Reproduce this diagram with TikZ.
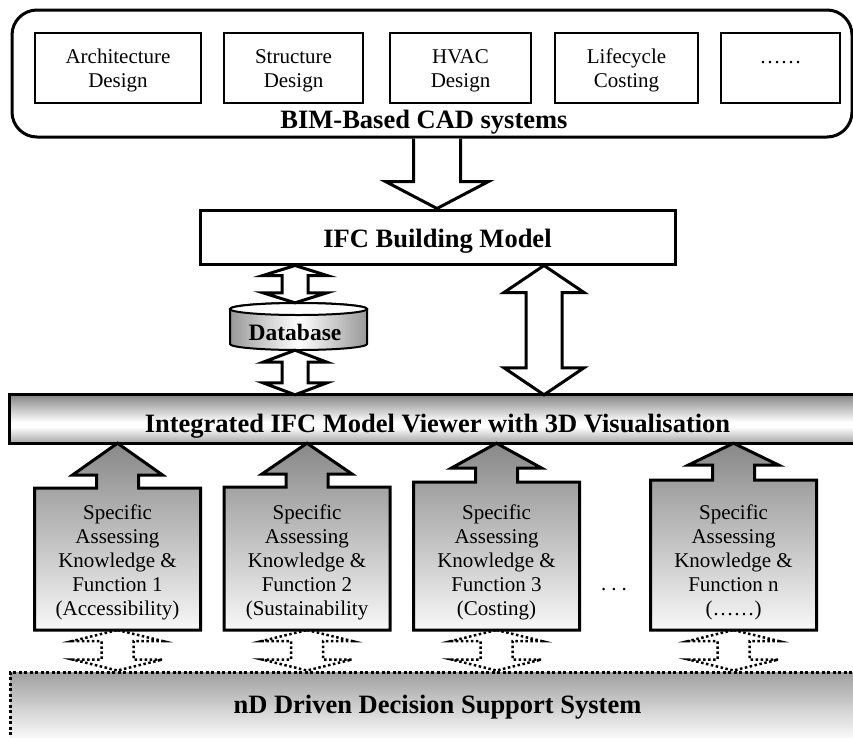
\documentclass[tikz,border=0pt]{standalone}
\usepackage{fontspec}
\setmainfont{Liberation Serif}
\usetikzlibrary{calc}
% double block arrow: #1 style, #2 top tip, #3 bottom tip, #4 shaft half width, #5 head half width, #6 head length
\newcommand\dblarrow[6][]{%
  \path[#1] (#2) -- ($(#2)+(#5,#6)$) -- ($(#2)+(#4,#6)$) -- ($(#3)+(#4,-#6)$) -- ($(#3)+(#5,-#6)$) -- (#3)
    -- ($(#3)+(-#5,-#6)$) -- ($(#3)+(-#4,-#6)$) -- ($(#2)+(-#4,#6)$) -- ($(#2)+(-#5,#6)$) -- cycle;}
% function box with up arrow: #1 name, #2 centre x, #3 box top y, #4 head base y, #5 text
\newcommand\funcbox[5]{%
  \coordinate (#1x) at (#2,0);
  \coordinate (#1b) at (#2,630);
  \path[funcshape] ($(#1b)+(-83,0)$) -- (#2-83,#3) -- (#2-21,#3) -- (#2-21,#4) -- (#2-45,#4) -- (#1x |- viewer.south)
    -- (#2+45,#4) -- (#2+21,#4) -- (#2+21,#3) -- (#2+83,#3) -- ($(#1b)+(83,0)$) -- cycle;
  \node[functext] (#1) at (#2,562) {#5};}
\begin{document}
\begin{tikzpicture}[x=1pt,y=-1pt,line join=miter,
  normaltext/.style={font=\fontsize{21}{24}\selectfont},
  boldtext/.style={font=\fontsize{26.5}{30}\selectfont\bfseries},
  outerbox/.style={draw,line width=3pt,rounded corners=25pt,inner sep=0pt},
  cadbox/.style={draw,line width=2pt,minimum height=70pt,inner sep=0pt},
  cadtext/.style={align=center,normaltext,inner sep=0pt,yshift=-2.5pt},
  plainbox/.style={draw,line width=3pt,inner sep=0pt},
  blockarrow/.style={draw,line width=3pt,fill=white},
  dotarrow/.style={draw,line width=2.5pt,dash pattern=on 2.5pt off 2.5pt},
  funcshape/.style={draw,line width=3pt,top color=gray!93,bottom color=gray!6},
  functext/.style={align=center,normaltext,inner sep=0pt},
]
\useasboundingbox (0,0) rectangle (853,737);
\fill[white] (0,0) rectangle (853,737);

% BIM-based CAD systems
\node[outerbox,minimum width=840pt,minimum height=127pt] (bim) at (432,73.5) {};
\node[cadbox,minimum width=166pt,label={[cadtext]center:Architecture\\Design}] (c1) at (118,68) {};
\node[cadbox,minimum width=139pt,label={[cadtext]center:Structure\\Design}] (c2) at (293.5,68) {};
\node[cadbox,minimum width=141pt,label={[cadtext]center:HVAC\\Design}] (c3) at (460.5,68) {};
\node[cadbox,minimum width=143pt,label={[cadtext]center:Lifecycle\\Costing}] (c4) at (626.5,68) {};
\node[cadbox,minimum width=119pt] (c5) at (780.5,68) {};
\node[normaltext,anchor=base] (c5label) at (c5.center |- 0,63) {……};
\node[boldtext,anchor=base] (bimlabel) at (424,128) {BIM-Based CAD systems};

% IFC building model
\node[plainbox,minimum width=475pt,minimum height=54pt] (ifc) at (437.5,237) {};
\node[boldtext,anchor=base] (ifclabel) at (437.5,247) {IFC Building Model};

% down arrow BIM -> IFC
\coordinate (xd) at (437,0);
\path[blockarrow] ($(xd |- bim.south)+(-23.5,0)$) -- ($(xd |- ifc.north)+(-23.5,-27)$) -- ($(xd |- ifc.north)+(-51.5,-27)$)
  -- (xd |- ifc.north) -- ($(xd |- ifc.north)+(51.5,-27)$) -- ($(xd |- ifc.north)+(23.5,-27)$) -- ($(xd |- bim.south)+(23.5,0)$);

% viewer bar
\node[minimum width=848pt,minimum height=48pt,inner sep=0pt] (viewer) at (434,419) {};
\shade[top color=gray!95,bottom color=white] (viewer.north west) rectangle ($(viewer.east)+(0,3)$);
\fill[white] ($(viewer.west)+(0,3)$) rectangle ($(viewer.east)+(0,8)$);
\shade[top color=white,bottom color=gray!70] ($(viewer.west)+(0,8)$) rectangle (viewer.south east);
\begin{scope}
  \clip (viewer.north west) rectangle ($(viewer.south east)+(0,-6)$);
  \node[boldtext,anchor=base] (viewerlabel) at (437.5,432) {Integrated IFC Model Viewer with 3D Visualisation};
\end{scope}
\draw[line width=3pt] (viewer.north west) rectangle (viewer.south east);

% database
\node[minimum width=137pt,minimum height=47pt,inner sep=0pt] (db) at (298.5,326.5) {};
\shade[draw,line width=2pt,left color=gray!80,right color=gray!80,middle color=white]
  (230,309) -- (230,344) arc[start angle=180,end angle=360,x radius=68.5pt,y radius=6pt]
  -- (367,309) arc[start angle=0,end angle=180,x radius=68.5pt,y radius=6pt] -- cycle;
\draw[line width=2pt,fill=white] (298.5,309) ellipse[x radius=68.5pt,y radius=6pt];
\node[font=\fontsize{23.5}{26}\selectfont\bfseries,anchor=base] (dblabel) at (295,340) {Database};

% arrows IFC <-> database <-> viewer, IFC <-> viewer
\coordinate (xa) at (295,0);
\coordinate (xb) at (544,0);
\dblarrow[blockarrow]{xa |- ifc.south}{xa |- db.north}{13}{32}{10}
\dblarrow[blockarrow]{xa |- db.south}{xa |- viewer.north}{13}{32}{12}
\dblarrow[blockarrow]{xb |- ifc.south}{xb |- viewer.north}{18}{40}{27}

% function boxes
\funcbox{f1}{117.5}{488}{475}{Specific\\Assessing\\Knowledge \&\\Function 1\\(Accessibility)}
\funcbox{f2}{307}{487}{474}{Specific\\Assessing\\Knowledge \&\\Function 2\\(Sustainability}
\funcbox{f3}{496.5}{482}{468}{Specific\\Assessing\\Knowledge \&\\Function 3\\(Costing)}
\funcbox{fn}{733.5}{480}{465}{Specific\\Assessing\\Knowledge \&\\Function n\\(……)}
\node[normaltext,anchor=base] (dots) at (614,590) {.\hspace{5pt}.\hspace{5pt}.};

% decision support system
\node[draw,line width=3pt,dash pattern=on 3pt off 2.5pt,top color=gray!75,bottom color=white,minimum width=848pt,minimum height=70pt,inner sep=0pt] (nd) at (434,707) {};
\node[boldtext,anchor=base] (ndlabel) at (437.5,713) {nD Driven Decision Support System};

% dotted double arrows
\dblarrow[dotarrow]{f1b}{f1x |- nd.north}{16}{45}{11}
\dblarrow[dotarrow]{f2b}{f2x |- nd.north}{16}{45}{11}
\dblarrow[dotarrow]{f3b}{f3x |- nd.north}{16}{45}{11}
\dblarrow[dotarrow]{fnb}{fnx |- nd.north}{16}{45}{11}
\end{tikzpicture}
\end{document}
